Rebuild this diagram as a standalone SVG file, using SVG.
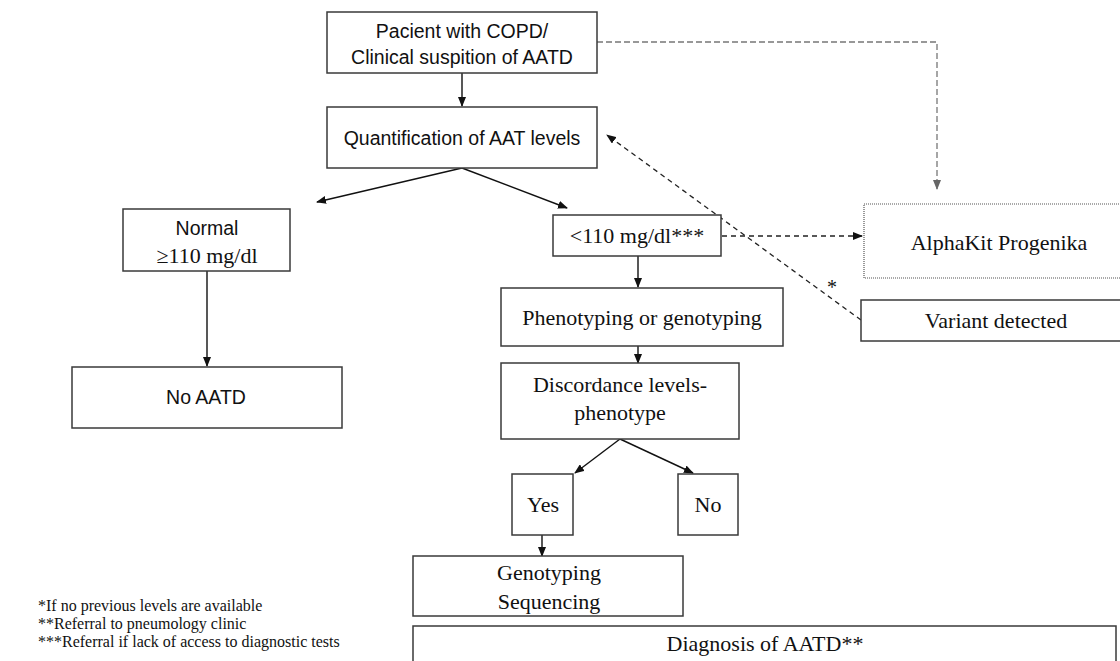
<svg xmlns="http://www.w3.org/2000/svg" width="1120" height="661" viewBox="0 0 1120 661">
<style>
.box{fill:#fff;stroke:#3a3a3a;stroke-width:1.5}
.dot{fill:#fff;stroke:#555;stroke-width:1.2;stroke-dasharray:1 1}
.sans{font-family:"Liberation Sans",Arial,sans-serif;font-size:19.5px;fill:#111;text-anchor:middle}
.serif{font-family:"Liberation Serif","Times New Roman",serif;font-size:22px;fill:#111;text-anchor:middle}
.note{font-family:"Liberation Serif","Times New Roman",serif;font-size:16px;fill:#111}
.ln{fill:none;stroke:#111;stroke-width:1.4}
.dsh{fill:none;stroke:#222;stroke-width:1.3;stroke-dasharray:5 4}
.gry{fill:none;stroke:#777;stroke-width:1.3;stroke-dasharray:6 3}
</style>
<defs>
<marker id="ah" markerWidth="10" markerHeight="8" refX="9" refY="4" orient="auto" markerUnits="userSpaceOnUse"><path d="M0,0 L10,4 L0,8 Z" fill="#111"/></marker>
<marker id="ahg" markerWidth="10" markerHeight="8" refX="9" refY="4" orient="auto" markerUnits="userSpaceOnUse"><path d="M0,0 L10,4 L0,8 Z" fill="#666"/></marker>
</defs>
<rect width="1120" height="661" fill="#fff"/>
<g id="connectors">
<line class="ln" x1="462" y1="73" x2="462" y2="106" marker-end="url(#ah)"/>
<line class="ln" x1="462" y1="168" x2="317" y2="202" marker-end="url(#ah)"/>
<line class="ln" x1="462" y1="168" x2="567" y2="208" marker-end="url(#ah)"/>
<line class="ln" x1="207" y1="271" x2="207" y2="366" marker-end="url(#ah)"/>
<line class="ln" x1="638" y1="256" x2="638" y2="287" marker-end="url(#ah)"/>
<line class="ln" x1="638" y1="346" x2="638" y2="363" marker-end="url(#ah)"/>
<line class="ln" x1="620" y1="439" x2="575" y2="473" marker-end="url(#ah)"/>
<line class="ln" x1="620" y1="439" x2="693" y2="473" marker-end="url(#ah)"/>
<line class="ln" x1="542" y1="535" x2="542" y2="556" marker-end="url(#ah)"/>
<polyline class="gry" points="597,42 937,42 937,189" marker-end="url(#ahg)"/>
<line class="dsh" x1="722" y1="236" x2="862" y2="236" marker-end="url(#ah)"/>
<line class="dsh" x1="861" y1="320" x2="607" y2="135" marker-end="url(#ah)"/>
<text class="serif" x="832" y="294" style="font-size:20px">*</text>
</g>
<g id="n-copd"><rect class="box" x="327" y="12" width="270" height="61"/><text class="sans" x="462" y="38">Pacient with COPD/</text><text class="sans" x="462" y="64">Clinical suspition of AATD</text></g>
<g id="n-quant"><rect class="box" x="327" y="107" width="270" height="61"/><text class="sans" x="462" y="145">Quantification of AAT levels</text></g>
<g id="n-normal"><rect class="box" x="123" y="209" width="167" height="62"/><text class="sans" x="207" y="235">Normal</text><text class="serif" x="207" y="263">≥110 mg/dl</text></g>
<g id="n-noaatd"><rect class="box" x="72" y="367" width="270" height="61"/><text class="sans" x="206" y="404">No AATD</text></g>
<g id="n-low"><rect class="box" x="553" y="215" width="168" height="41"/><text class="serif" x="637" y="243">&lt;110 mg/dl***</text></g>
<g id="n-alpha"><rect class="dot" x="864" y="204" width="270" height="74"/><text class="serif" x="999" y="250">AlphaKit Progenika</text></g>
<g id="n-variant"><rect class="box" x="861" y="300" width="270" height="41"/><text class="serif" x="996" y="328">Variant detected</text></g>
<g id="n-pheno"><rect class="box" x="501" y="288" width="282" height="58"/><text class="serif" x="642" y="325">Phenotyping or genotyping</text></g>
<g id="n-disc"><rect class="box" x="501" y="363" width="238" height="76"/><text class="serif" x="620" y="392">Discordance levels-</text><text class="serif" x="620" y="420">phenotype</text></g>
<g id="n-yes"><rect class="box" x="512" y="474" width="61" height="61"/><text class="serif" x="543" y="512">Yes</text></g>
<g id="n-no"><rect class="box" x="678" y="474" width="60" height="61"/><text class="serif" x="708" y="512">No</text></g>
<g id="n-geno"><rect class="box" x="413" y="556" width="270" height="60"/><text class="serif" x="549" y="580">Genotyping</text><text class="serif" x="549" y="609">Sequencing</text></g>
<g id="n-diag"><rect class="box" x="413" y="626" width="703" height="45"/><text class="serif" x="765" y="651">Diagnosis of AATD**</text></g>
<g id="notes">
<text class="note" x="38" y="611">*If no previous levels are available</text>
<text class="note" x="38" y="629">**Referral to pneumology clinic</text>
<text class="note" x="38" y="647">***Referral if lack of access to diagnostic tests</text>
</g>
</svg>
